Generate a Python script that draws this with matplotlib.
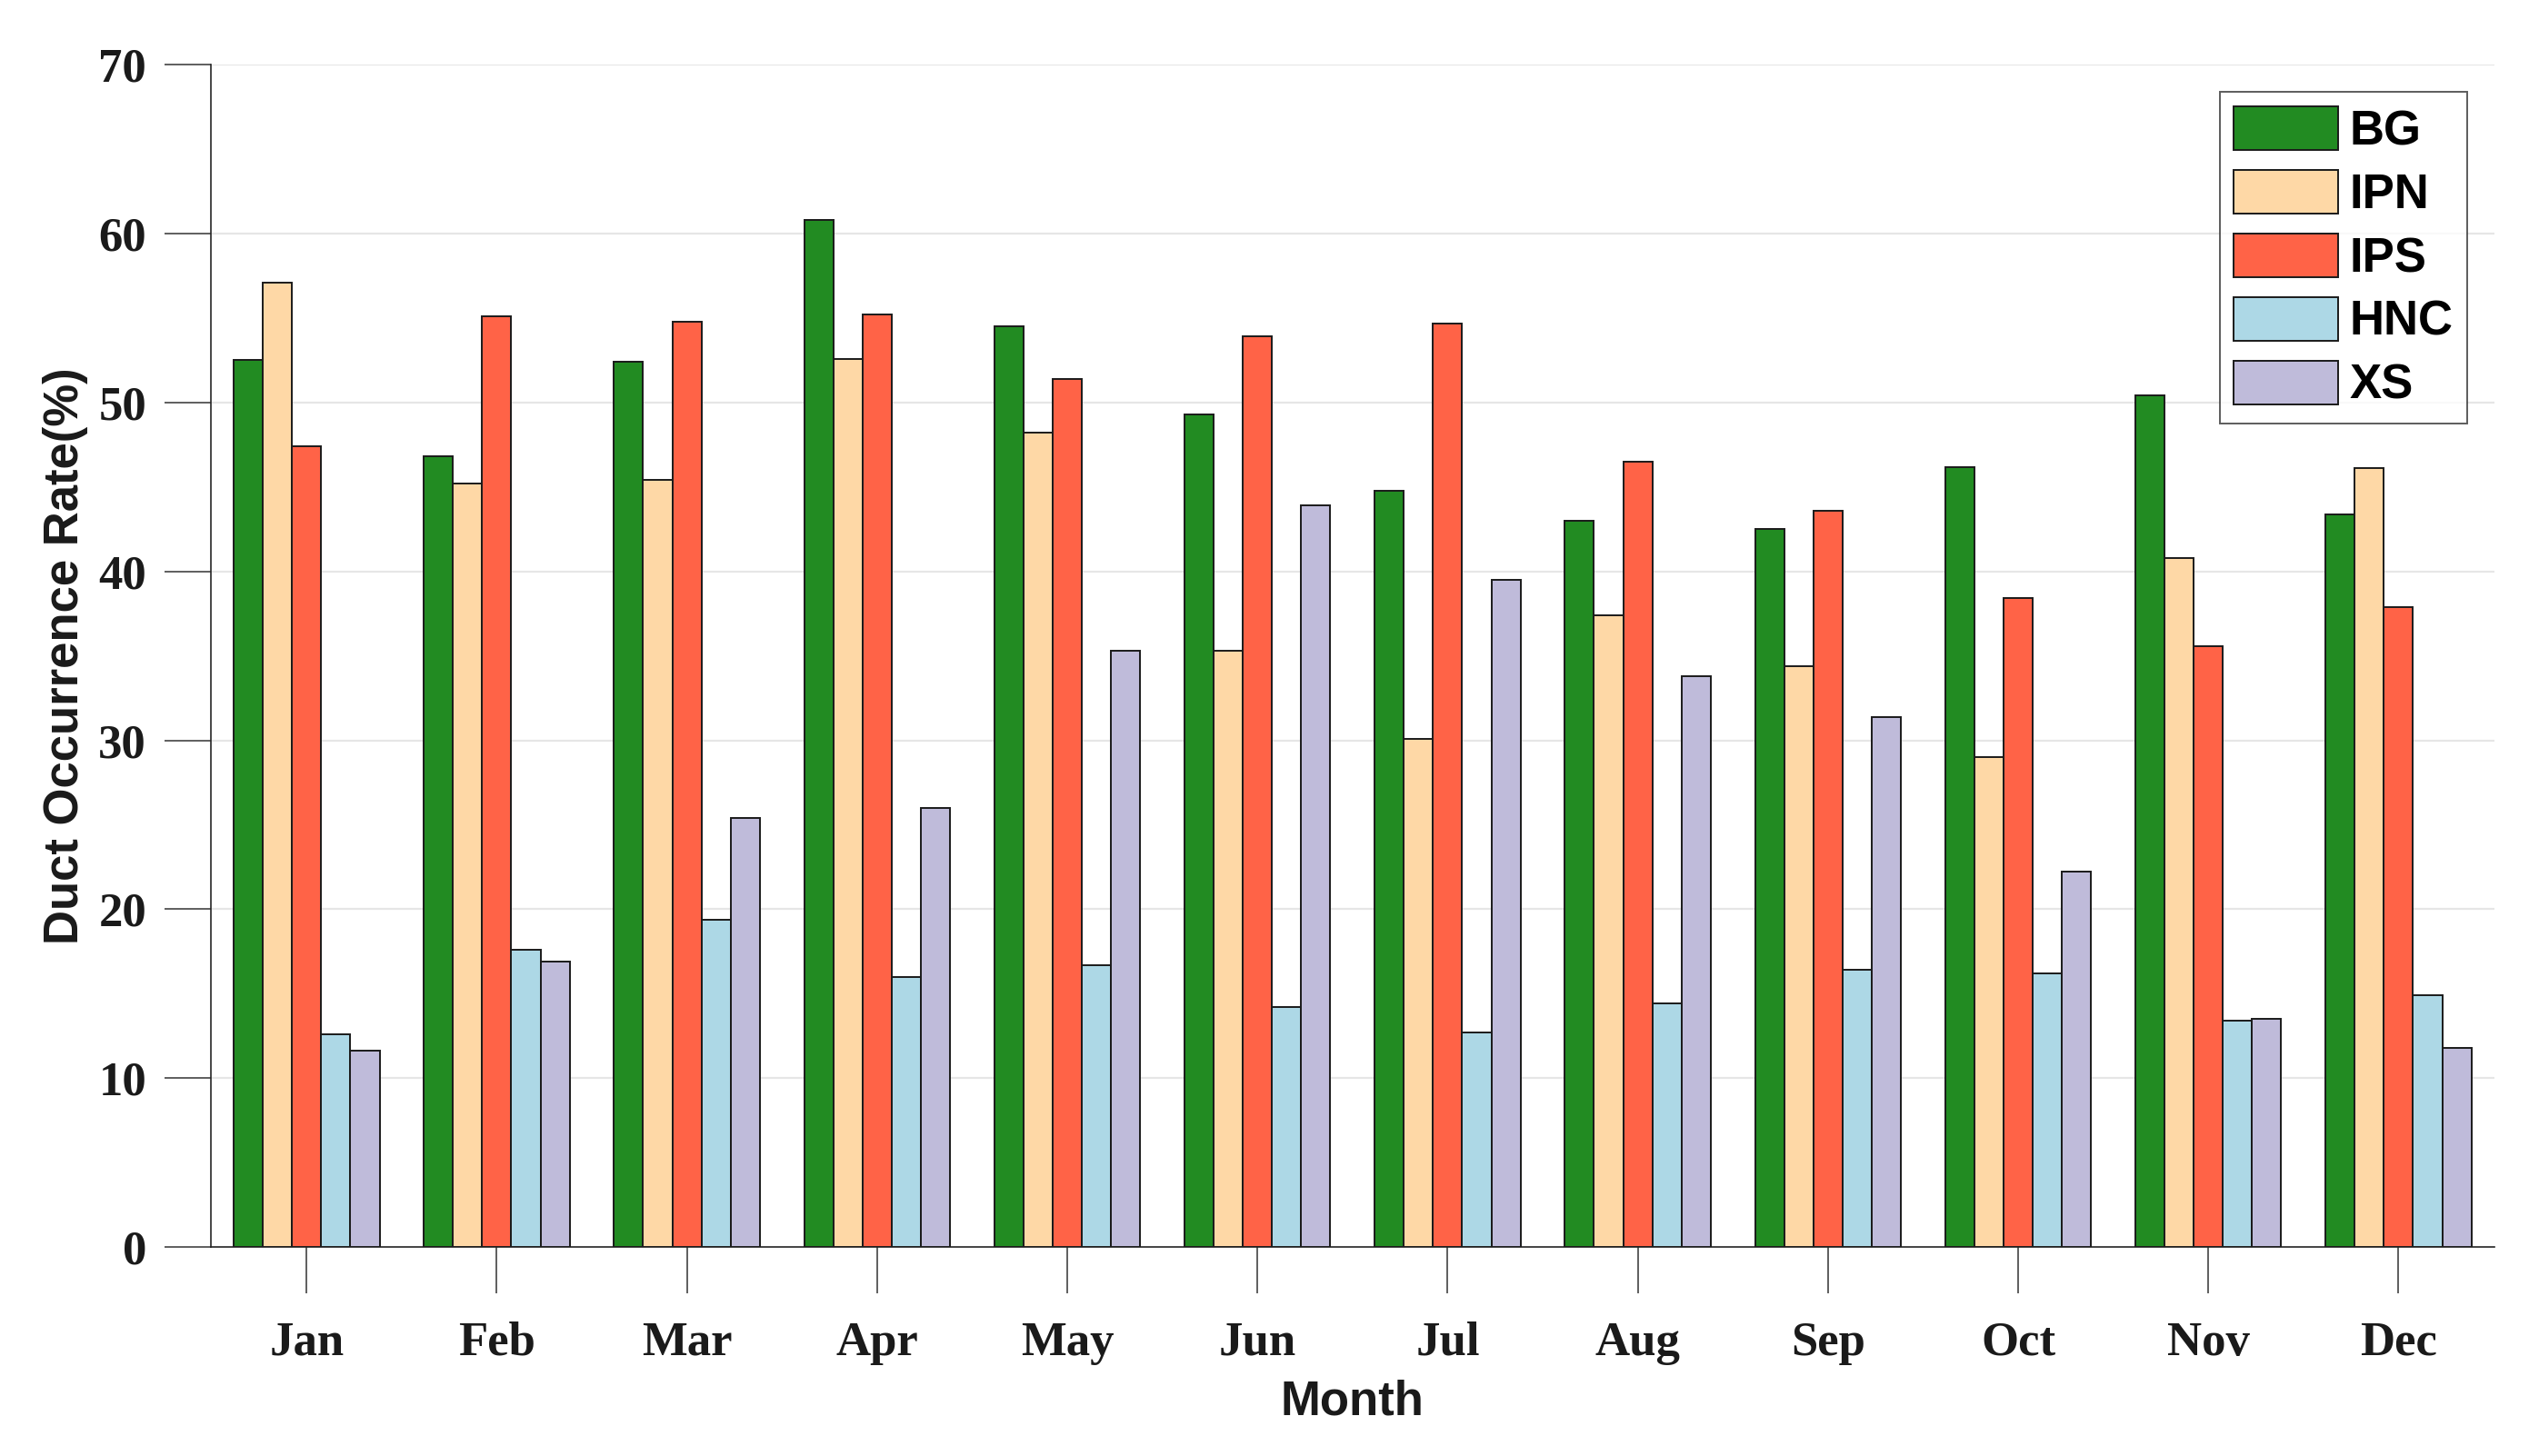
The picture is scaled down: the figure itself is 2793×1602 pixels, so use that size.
import numpy as np
import matplotlib
matplotlib.use("Agg")
import matplotlib.pyplot as plt

months = ["Jan", "Feb", "Mar", "Apr", "May", "Jun", "Jul", "Aug", "Sep", "Oct", "Nov", "Dec"]
series_names = ["BG", "IPN", "IPS", "HNC", "XS"]

BG = [52.5, 46.8, 52.4, 60.8, 54.5, 49.3, 44.8, 43.0, 42.5, 46.2, 50.4, 43.4]
IPN = [57.1, 45.2, 45.4, 52.6, 48.2, 35.3, 30.1, 37.4, 34.4, 29.0, 40.8, 46.1]
IPS = [47.4, 55.1, 54.8, 55.2, 51.4, 53.9, 54.7, 46.5, 43.6, 38.4, 35.6, 37.9]
HNC = [12.6, 17.6, 19.4, 16.0, 16.7, 14.2, 12.7, 14.4, 16.4, 16.2, 13.4, 14.9]
XS = [11.6, 16.9, 25.4, 26.0, 35.3, 43.9, 39.5, 33.8, 31.4, 22.2, 13.5, 11.8]

yticks = [0, 10, 20, 30, 40, 50, 60, 70]

colors = ["#228B22", "#FED8A6", "#FF6347", "#ADD8E6", "#BFBBDA"]
data = [BG, IPN, IPS, HNC, XS]

W, H, DPI = 2793, 1602, 200
fig = plt.figure(figsize=(W / DPI, H / DPI), dpi=DPI)
ax = fig.add_axes([231.6 / W, 1 - 1372 / H, (2744 - 231.6) / W, (1372 - 71.3) / H])

x = np.arange(len(months))
bw = 0.1535
for i, (name, vals, c) in enumerate(zip(series_names, data, colors)):
    ax.bar(x + (i - 2) * bw, vals, width=bw, color=c, edgecolor="#1a1a1a",
           linewidth=0.7, label=name, zorder=3)

ax.set_xlim(-0.505, 11.505)
ax.set_ylim(0, 70)
ax.set_yticks(yticks)
ax.set_xticks(x)
ax.set_xticklabels(months)

ax.yaxis.grid(True, color="#e6e6e6", linewidth=0.8, zorder=0)
ax.set_axisbelow(True)

for s in ["top", "right"]:
    ax.spines[s].set_visible(False)
for s in ["left", "bottom"]:
    ax.spines[s].set_color("#262626")
    ax.spines[s].set_linewidth(0.6)

ax.tick_params(axis="both", direction="out", length=18.4, width=0.55, colors="#333333")
ax.tick_params(axis="x", pad=11)
ax.tick_params(axis="y", pad=7)
for lab in ax.get_xticklabels() + ax.get_yticklabels():
    lab.set_fontfamily("Liberation Serif")
    lab.set_fontweight("bold")
    lab.set_fontsize(19)
    lab.set_color("#1a1a1a")

ax.set_ylabel("Duct Occurrence Rate(%)", family="Liberation Sans", weight="bold",
              size=19, color="#1a1a1a")
ax.yaxis.set_label_coords((97 - 231.6) / (2744 - 231.6), 0.5)
ax.set_xlabel("Month", family="Liberation Sans", weight="bold", size=19, color="#1a1a1a")
ax.xaxis.set_label_coords(0.5, -0.112)

leg = ax.legend(loc="upper right", prop={"family": "Liberation Sans", "weight": "bold", "size": 19},
                handlelength=2.18, handleheight=1.02, handletextpad=0.22, labelspacing=0.32,
                borderpad=0.3, borderaxespad=0.57, frameon=True, fancybox=False)
leg.get_frame().set_edgecolor("#333333")
leg.get_frame().set_linewidth(0.7)
leg.set_zorder(5)

fig.savefig("out.png", dpi=DPI)
